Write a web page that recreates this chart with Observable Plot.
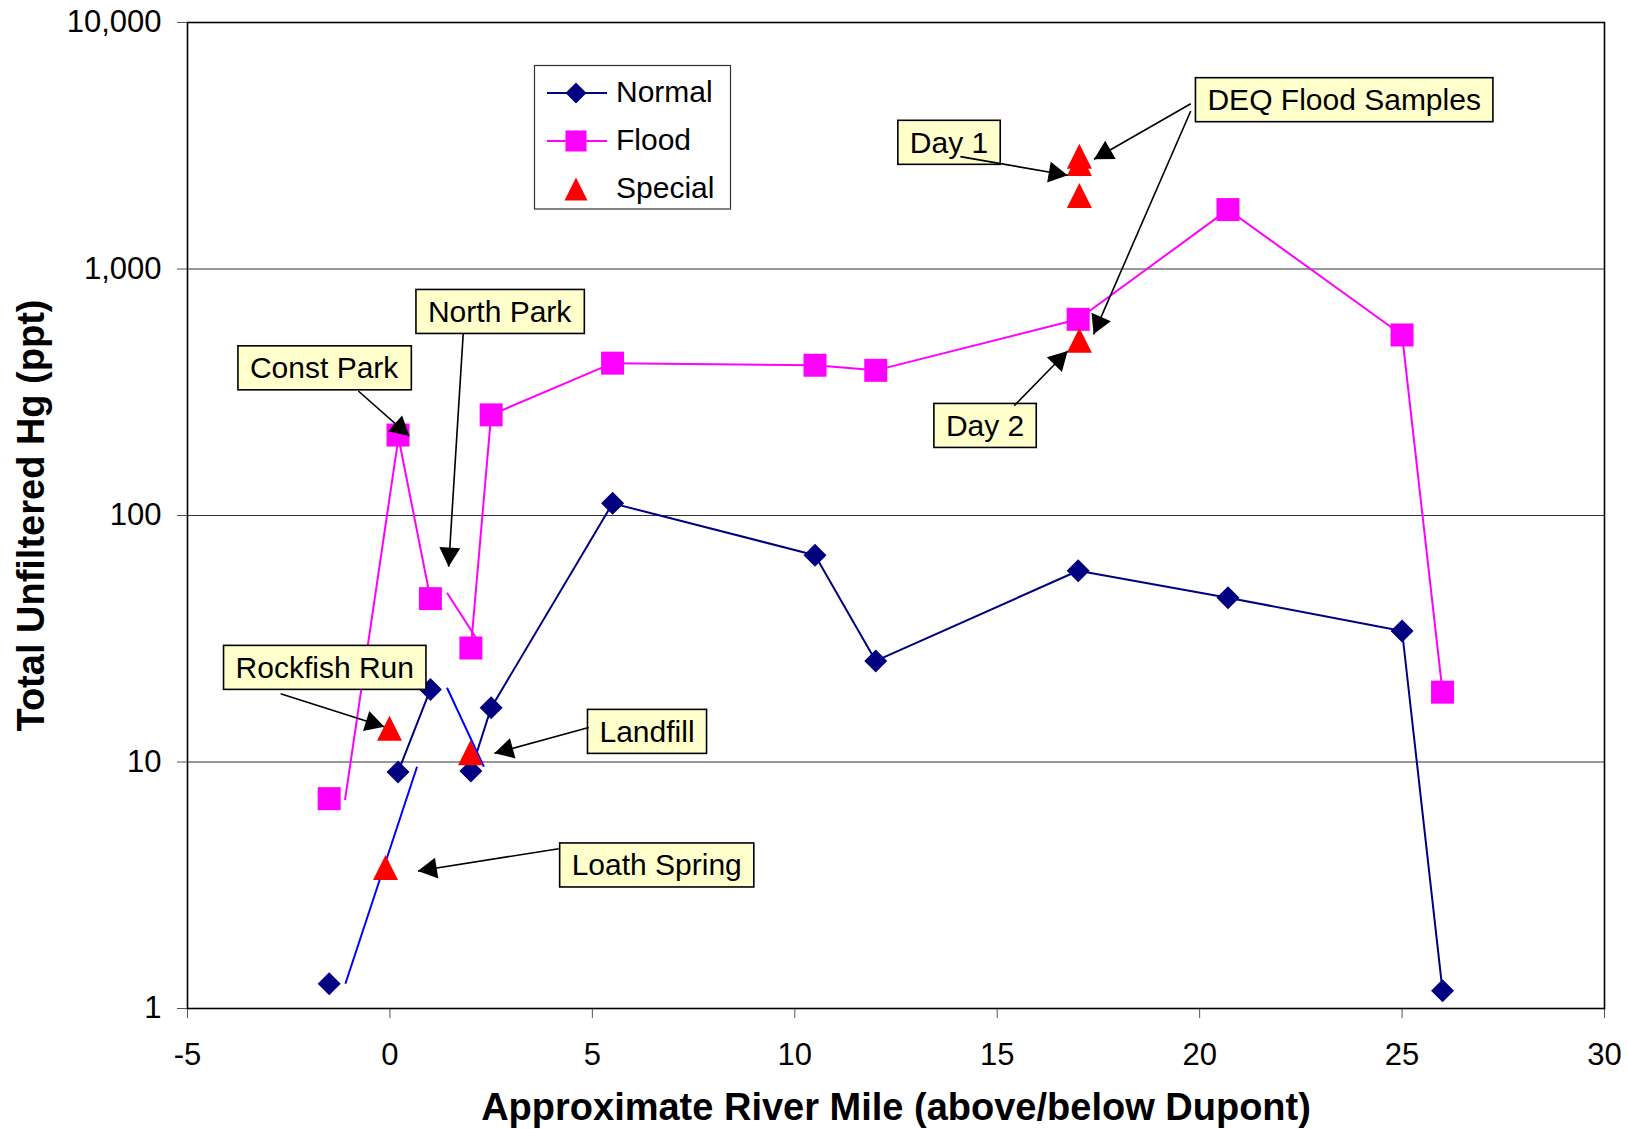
<!DOCTYPE html>
<html>
<head>
<meta charset="utf-8">
<script src="https://cdn.jsdelivr.net/npm/d3@7"></script>
<script src="https://cdn.jsdelivr.net/npm/@observablehq/plot@0.6"></script>
<style>
  html, body { margin: 0; padding: 0; background: #fff; }
  #chart { width: 1627px; height: 1129px; }
</style>
</head>
<body>
<div id="chart"></div>
<script>
// ---- data ----
const miles     = [-1.5, 0.2, 1.0, 2.0, 2.5, 5.5, 10.5, 12, 17, 20.7, 25, 26];
const normalHg  = [1.26, 9.1, 19.7, 9.2, 16.6, 112, 69, 25.7, 59.7, 46.4, 34, 1.18];
const floodHg   = [7.1, 212, 46, 29, 256, 415, 407, 388, 625, 1742, 540, 19.2];
const normalRun = [0, 1, 1, 2, 2, 2, 2, 2, 2, 2, 2, 2];   // connected runs (line breaks)
const floodRun  = [0, 1, 1, 2, 2, 2, 2, 2, 2, 2, 2, 2];

const specialMiles = [-0.01, -0.11, 1.99, 17.03, 17.03, 17.03, 17.03];
const specialHg    = [13.7, 3.73, 10.9, 2868, 2680, 1987, 514];

// loose connector strokes drawn in the original
const normalStrayFrom = [[-1.10, 1.26], [1.41, 20.0]];
const normalStrayTo   = [[0.67, 9.57], [2.32, 9.57]];
const floodStrayFrom  = [[-1.11, 7.0], [1.41, 48.6]];
const floodStrayTo    = [[0.22, 212], [2.26, 29.5]];

// callouts
const calloutText = ["Const Park", "North Park", "Rockfish Run", "Landfill", "Loath Spring", "Day 1", "DEQ Flood Samples", "Day 2"];
const calloutMile = [-1.625, 2.71, -1.61, 6.35, 6.59, 13.81, 23.57, 14.70];
const calloutHg   = [394, 667, 24.0, 13.2, 3.79, 3238, 4822, 230];
const arrowFrom = [[-0.78, 320], [1.81, 545], [-2.70, 18.9], [4.91, 13.8], [4.17, 4.45], [14.09, 2856], [19.78, 4684], [19.78, 4375], [15.42, 279]];
const arrowTo   = [[0.48, 210], [1.45, 62], [-0.14, 13.9], [2.58, 10.85], [0.69, 3.61], [16.74, 2399], [17.39, 2786], [17.38, 543], [16.74, 465]];

const xTicks = [-5, 0, 5, 10, 15, 20, 25, 30];
const yTicks = [1, 10, 100, 1000, 10000];
const gridHg = [10, 100, 1000];

const seriesNames = ["Normal", "Flood", "Special"];
const seriesColors = ["#000080", "#FF00FF", "#FF0000"];
const lineColors = ["#000080", "#FF00FF", null];

// ---- tables ----
const normalData = miles.map((x, i) => ({x, y: normalHg[i], run: normalRun[i]}));
const floodData = miles.map((x, i) => ({x, y: floodHg[i], run: floodRun[i]}));
const specialData = specialMiles.map((x, i) => ({x, y: specialHg[i]}));
const toLinks = (from, to) => from.map((f, i) => ({x1: f[0], y1: f[1], x2: to[i][0], y2: to[i][1]}));
const normalStray = toLinks(normalStrayFrom, normalStrayTo);
const floodStray = toLinks(floodStrayFrom, floodStrayTo);
const arrows = toLinks(arrowFrom, arrowTo);
const callouts = calloutText.map((t, i) => ({text: t, x: calloutMile[i], y: calloutHg[i]}));

// ---- Excel-like marker symbols (size = side^2) ----
const diamondSym = {draw(ctx, size) { const h = Math.sqrt(size) / 2; ctx.moveTo(0, -h); ctx.lineTo(h, 0); ctx.lineTo(0, h); ctx.lineTo(-h, 0); ctx.closePath(); }};
const squareSym = {draw(ctx, size) { const h = Math.sqrt(size) / 2; ctx.moveTo(-h, -h); ctx.lineTo(h, -h); ctx.lineTo(h, h); ctx.lineTo(-h, h); ctx.closePath(); }};
const triSym = {draw(ctx, size) { const h = Math.sqrt(size) / 2; ctx.moveTo(0, -h); ctx.lineTo(h, h); ctx.lineTo(-h, h); ctx.closePath(); }};
const symbols = [diamondSym, squareSym, triSym];
const side = s => s / Math.sqrt(Math.PI); // Plot: size = PI r^2

const FONT = "'Liberation Sans', Arial, Helvetica, sans-serif";

const plot = Plot.plot({
  width: 1627,
  height: 1129,
  marginLeft: 187,
  marginRight: 23,
  marginTop: 22,
  marginBottom: 121,
  style: {fontFamily: FONT, fontSize: "31px", color: "black", background: "white", overflow: "visible"},
  x: {domain: [-5, 30], ticks: xTicks, tickFormat: d => String(d), tickSize: 10, tickPadding: 24, label: null},
  y: {type: "log", domain: [1, 10000], ticks: yTicks, tickFormat: d3.format(","), tickSize: 10, tickPadding: 16, label: null},
  marks: [
    Plot.ruleY(gridHg, {stroke: "#333", strokeWidth: 1.2}),
    Plot.frame({stroke: "black", strokeWidth: 1.6}),
    Plot.line(normalData, {x: "x", y: "y", z: "run", stroke: "#000080", strokeWidth: 2}),
    Plot.link(normalStray, {x1: "x1", y1: "y1", x2: "x2", y2: "y2", stroke: "#0000FF", strokeWidth: 2}),
    Plot.line(floodData, {x: "x", y: "y", z: "run", stroke: "#FF00FF", strokeWidth: 2}),
    Plot.link(floodStray, {x1: "x1", y1: "y1", x2: "x2", y2: "y2", stroke: "#FF00FF", strokeWidth: 2}),
    Plot.dot(normalData, {x: "x", y: "y", symbol: diamondSym, r: side(23), fill: "#000080", stroke: "none"}),
    Plot.dot(floodData, {x: "x", y: "y", symbol: squareSym, r: side(23), fill: "#FF00FF", stroke: "none"}),
    Plot.dot(specialData, {x: "x", y: "y", symbol: triSym, r: side(25), fill: "#FF0000", stroke: "none"}),
    Plot.text(callouts, {x: "x", y: "y", text: "text", fontSize: 30, fill: "black", textAnchor: "middle", lineAnchor: "middle", ariaDescription: "callouts"}),
    Plot.link(arrows, {x1: "x1", y1: "y1", x2: "x2", y2: "y2", stroke: "black", strokeWidth: 1.6, ariaDescription: "arrows"}),
    Plot.text(["Total Unfiltered Hg (ppt)"], {text: d => d, frameAnchor: "left", dx: -156, rotate: -90, fontSize: 38, fontWeight: "bold", fill: "black", textAnchor: "middle", lineAnchor: "middle"}),
    Plot.text(["Approximate River Mile (above/below Dupont)"], {text: d => d, frameAnchor: "bottom", dy: 99, fontSize: 38, fontWeight: "bold", fill: "black", textAnchor: "middle", lineAnchor: "middle"})
  ]
});

document.getElementById("chart").append(plot);

const svg = d3.select(plot);

// tick marks grey
svg.selectAll('g[aria-label="x-axis tick"], g[aria-label="y-axis tick"]').attr("stroke", "#555");

// callout boxes behind the callout texts
svg.selectAll('g[aria-description="callouts"] text').each(function() {
  const b = this.getBBox();
  const padX = 12, h = 44;
  const cy = b.y + b.height / 2;
  const rect = document.createElementNS("http://www.w3.org/2000/svg", "rect");
  rect.setAttribute("x", b.x - padX);
  rect.setAttribute("y", cy - h / 2);
  rect.setAttribute("width", b.width + 2 * padX);
  rect.setAttribute("height", h);
  rect.setAttribute("fill", "#FFFFCC");
  rect.setAttribute("stroke", "black");
  rect.setAttribute("stroke-width", 1.6);
  const tr = this.getAttribute("transform");
  if (tr) rect.setAttribute("transform", tr);
  this.parentNode.insertBefore(rect, this);
});

// filled arrow heads
const defs = svg.insert("defs", ":first-child");
defs.append("marker")
  .attr("id", "callout-head")
  .attr("viewBox", "-21 -12 22 24")
  .attr("refX", 0).attr("refY", 0)
  .attr("markerWidth", 22).attr("markerHeight", 24)
  .attr("markerUnits", "userSpaceOnUse")
  .attr("orient", "auto")
  .append("path")
  .attr("d", "M0,0L-19,-10.5L-19,10.5Z")
  .attr("fill", "black");
svg.selectAll('g[aria-description="arrows"] path, g[aria-description="arrows"] line').attr("marker-end", "url(#callout-head)");

// legend
const lg = svg.append("g").attr("font-family", FONT).attr("font-size", 30).attr("text-anchor", "start");
lg.append("rect").attr("x", 534.5).attr("y", 65.5).attr("width", 196).attr("height", 143.5)
  .attr("fill", "white").attr("stroke", "#333").attr("stroke-width", 1.2);
const rowY = [93, 141, 189];
const legendSide = [21, 21, 23];
seriesNames.forEach((name, i) => {
  const y = rowY[i];
  if (lineColors[i]) {
    lg.append("line").attr("x1", 547).attr("x2", 607).attr("y1", y).attr("y2", y)
      .attr("stroke", lineColors[i]).attr("stroke-width", 2);
  }
  lg.append("path").attr("transform", `translate(576,${y})`)
    .attr("d", d3.symbol().type(symbols[i]).size(legendSide[i] * legendSide[i])())
    .attr("fill", seriesColors[i]);
  lg.append("text").attr("x", 616).attr("y", y - 2).attr("dy", "0.36em")
    .attr("text-anchor", "start").attr("fill", "black").text(name);
});
</script>
</body>
</html>
